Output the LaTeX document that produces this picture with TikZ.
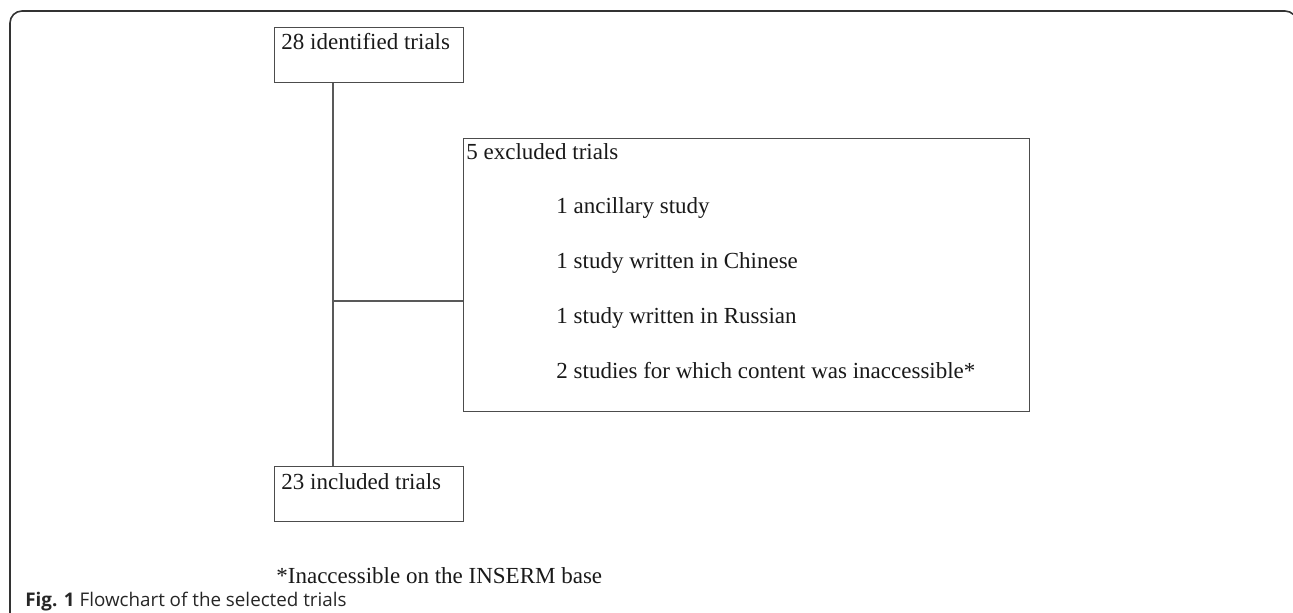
\documentclass[tikz,border=0pt]{standalone}
\usepackage{fontspec}
\setmainfont{Liberation Serif}
\newfontfamily\capfont{Open Sans}
\begin{document}
\begin{tikzpicture}[x=0.5pt,y=-0.5pt,
  box/.style={draw=black!70, line width=0.6pt, inner sep=0pt, anchor=north west},
  txt/.style={anchor=base west, inner sep=0pt, text=black!90, font=\fontsize{11.5}{14}\selectfont},
  link/.style={draw=black!65, line width=0.65pt},
  frame/.style={draw=black!80, line width=0.8pt, rounded corners=6pt}]
\useasboundingbox (0,0) rectangle (1293,613);
\clip (0,0) rectangle (1293,613);
\draw[frame] (10,640) -- (10,11) -- (1297,11) -- (1297,640);
% boxes
\node[box, minimum width=94.5pt, minimum height=27.5pt] (top) at (274,27) {};
\node[box, minimum width=283pt, minimum height=136.5pt] (excl) at (463,138) {};
\node[box, minimum width=94.5pt, minimum height=27.5pt] (bot) at (274,466) {};
% texts
\node[txt] (toptxt) at (281,50) {28 identified trials};
\node[txt] (bottxt) at (281,489) {23 included trials};
\node[txt] (excltxt) at (466,160) {5 excluded trials};
\node[txt] (l1) at (556,214) {1 ancillary study};
\node[txt] (l2) at (556,269) {1 study written in Chinese};
\node[txt] (l3) at (556,324) {1 study written in Russian};
\node[txt] (l4) at (556,379) {2 studies for which content was inaccessible*};
\node[txt] (note) at (276,583) {*Inaccessible on the INSERM base};
% connectors
\coordinate (j) at (333,301);
\draw[link] (top.south -| j) -- (bot.north -| j);
\draw[link] (j) -- (excl.west |- j);
% caption
\node[anchor=base west, inner sep=0pt, text=black!85, font=\capfont\fontsize{9.4}{11}\selectfont] (cap) at (25,606) {\textbf{Fig. 1} Flowchart of the selected trials};
\end{tikzpicture}
\end{document}
